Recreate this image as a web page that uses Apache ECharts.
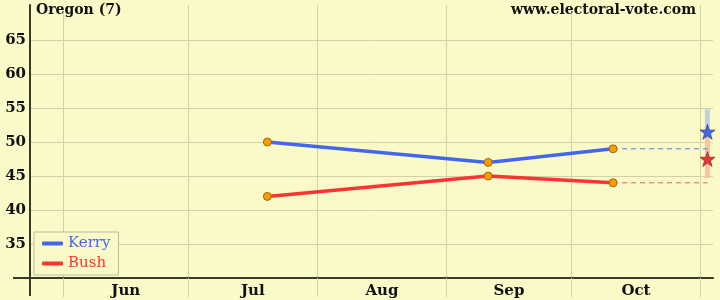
<!DOCTYPE html>
<html><head><meta charset="utf-8">
<script src="https://cdn.jsdelivr.net/npm/echarts@6/dist/echarts.min.js"></script>
<style>html,body{margin:0;padding:0;background:#fafac8}#c{width:720px;height:300px}</style>
</head><body><div id="c"></div>
<script>
// ---- data ----
const monthStarts = ['2004-06-01','2004-07-01','2004-08-01','2004-09-01','2004-10-01','2004-11-01'];
const monthLabels = ['Jun','Jul','Aug','Sep','Oct'];
const axisStart = '2004-05-24';
const axisEnd = '2004-11-04';
const pollDates = ['2004-07-20','2004-09-11','2004-10-11'];
const kerry = [50, 47, 49];
const bush = [42, 45, 44];
const electionDate = '2004-11-02T16:00';
const kerryProj = 51.5;
const bushProj = 47.5;
const kerryRange = [48.5, 54.8];
const bushRange = [44.7, 50.7];
const yTicks = [35, 40, 45, 50, 55, 60, 65];
const titleLeft = 'Oregon (7)';
const titleRight = 'www.electoral-vote.com';

// ---- helpers ----
const day = d => (Date.parse((d.length === 10 ? d + 'T00:00' : d) + ':00Z') - Date.parse('2004-01-01T00:00:00Z')) / 864e5;
const monthMids = monthLabels.map((m, i) => (day(monthStarts[i]) + day(monthStarts[i + 1])) / 2);
const lastIdx = pollDates.length - 1;
const eDay = day(electionDate);

const SERIF = "'DejaVu Serif', serif";
const GRID = '#d2d2aa';
const AXIS = '#3a3a2a';
const BLUE = '#4466ee';
const RED = '#ff3333';
const STAR = 'path://M50,0 L61.8,35.1 L97.6,34.5 L69.1,56.7 L79.4,90.5 L50,70 L20.6,90.5 L30.9,56.7 L2.4,34.5 L38.2,35.1 Z';

const chart = echarts.init(document.getElementById('c'), null, {renderer: 'canvas'});
const gridLeft = 30, gridRight = 7, gridTop = 5, gridBottom = 22;
chart.setOption({
  animation: false,
  backgroundColor: '#fafac8',
  title: [
    {text: titleLeft, left: 36, top: 3, padding: 0,
     textStyle: {fontFamily: SERIF, fontWeight: 'bold', fontSize: 14, color: '#111'}},
    {text: titleRight, right: 24, top: 3, padding: 0,
     textStyle: {fontFamily: SERIF, fontWeight: 'bold', fontSize: 14, color: '#111'}}
  ],
  grid: {left: gridLeft, right: gridRight, top: gridTop, bottom: gridBottom, containLabel: false},
  legend: {
    orient: 'vertical', left: 34, top: 232, padding: [4, 8, 4, 8], itemGap: 5,
    borderColor: '#bcbc98', borderWidth: 1, backgroundColor: '#fafac8',
    icon: 'roundRect', itemWidth: 21, itemHeight: 4,
    textStyle: {fontFamily: SERIF, fontSize: 15},
    data: [
      {name: 'Kerry', itemStyle: {color: BLUE, borderWidth: 0}, textStyle: {color: BLUE}},
      {name: 'Bush', itemStyle: {color: RED, borderWidth: 0}, textStyle: {color: RED}}
    ]
  },
  xAxis: {
    type: 'value', min: day(axisStart), max: day(axisEnd),
    axisLine: {show: true, lineStyle: {color: AXIS, width: 2}},
    axisTick: {show: true, customValues: monthStarts.map(day), length: 19, lineStyle: {color: GRID, width: 1}},
    splitLine: {show: true, lineStyle: {color: GRID, width: 1}},
    axisLabel: {
      customValues: monthMids, margin: 6,
      fontFamily: SERIF, fontWeight: 'bold', fontSize: 15, color: '#111',
      formatter: v => { const i = monthMids.findIndex(m => Math.abs(m - v) < 0.01); return i >= 0 ? monthLabels[i] : ''; }
    }
  },
  yAxis: {
    type: 'value', min: 30, max: 70.15,
    axisLine: {show: true, lineStyle: {color: AXIS, width: 2}},
    axisTick: {show: false, customValues: yTicks},
    splitLine: {show: true, lineStyle: {color: GRID, width: 1}},
    axisLabel: {customValues: yTicks, margin: 4, fontFamily: SERIF, fontWeight: 'bold', fontSize: 15, color: '#111'}
  },
  graphic: [
    {type: 'line', shape: {x1: 13, y1: 300 - gridBottom, x2: gridLeft, y2: 300 - gridBottom}, style: {stroke: AXIS, lineWidth: 2}, z: 10},
    {type: 'line', shape: {x1: gridLeft, y1: 300 - gridBottom, x2: gridLeft, y2: 296}, style: {stroke: AXIS, lineWidth: 2}, z: 10}
  ],
  series: [
    {name: 'KerryRange', type: 'line', symbol: 'none', silent: true, z: 1,
     data: kerryRange.map(v => [eDay, v]), lineStyle: {color: '#c4d0d6', width: 5, cap: 'butt'}},
    {name: 'BushRange', type: 'line', symbol: 'none', silent: true, z: 1,
     data: bushRange.map(v => [eDay, v]), lineStyle: {color: '#f8c4a4', width: 5, cap: 'butt'}},
    {name: 'KerryTrend', type: 'line', symbol: 'none', silent: true, z: 2,
     data: [[day(pollDates[lastIdx]), kerry[lastIdx]], [eDay, kerry[lastIdx]]],
     lineStyle: {color: '#5a7ae6', width: 1, type: [5, 4]}},
    {name: 'BushTrend', type: 'line', symbol: 'none', silent: true, z: 2,
     data: [[day(pollDates[lastIdx]), bush[lastIdx]], [eDay, bush[lastIdx]]],
     lineStyle: {color: '#e85a5a', width: 1, type: [5, 4]}},
    {name: 'Kerry', type: 'line', z: 3, color: BLUE,
     data: pollDates.map((d, i) => [day(d), kerry[i]]),
     lineStyle: {color: BLUE, width: 3.5},
     symbol: 'circle', symbolSize: 8, itemStyle: {color: '#ff9a00', borderColor: '#9a6a10', borderWidth: 1}},
    {name: 'Bush', type: 'line', z: 3, color: RED,
     data: pollDates.map((d, i) => [day(d), bush[i]]),
     lineStyle: {color: RED, width: 3.5},
     symbol: 'circle', symbolSize: 8, itemStyle: {color: '#ff9a00', borderColor: '#9a6a10', borderWidth: 1}},
    {name: 'KerryProj', type: 'scatter', z: 4, symbol: STAR, symbolSize: 15,
     data: [[eDay, kerryProj]], itemStyle: {color: BLUE, opacity: 1, borderColor: '#223366', borderWidth: 0.6}},
    {name: 'BushProj', type: 'scatter', z: 4, symbol: STAR, symbolSize: 15,
     data: [[eDay, bushProj]], itemStyle: {color: '#ee3333', opacity: 1, borderColor: '#662222', borderWidth: 0.6}}
  ]
});
</script>
</body></html>
